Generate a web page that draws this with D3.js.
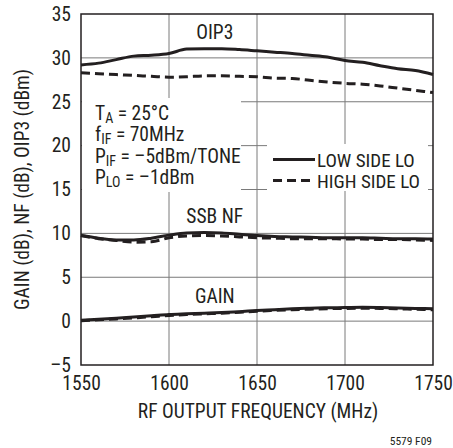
<!DOCTYPE html>
<html><head><meta charset="utf-8">
<script src="https://cdn.jsdelivr.net/npm/d3@7"></script>
<style>
html,body{margin:0;padding:0;background:#fff;}
svg{display:block;}
text{font-family:"Liberation Sans Narrow","Arial Narrow","Roboto Condensed","Liberation Sans",sans-serif;fill:#231f20;}
</style></head>
<body>
<script>
const freq = [1550,1560,1570,1580,1590,1600,1610,1620,1630,1640,1650,1660,1670,1680,1690,1700,1710,1720,1730,1740,1750];
const oip3Low  = [29.2,29.4,29.8,30.2,30.3,30.5,31.0,31.05,31.05,30.95,30.8,30.65,30.5,30.3,30.1,29.7,29.5,29.1,28.75,28.55,28.1];
const oip3High = [28.3,28.2,28.1,28.0,27.9,27.8,27.85,27.95,27.95,27.9,27.85,27.7,27.65,27.45,27.25,27.1,27.0,26.8,26.55,26.3,26.05];
const nfLow    = [9.75,9.45,9.25,9.25,9.45,9.8,10.05,10.1,10.05,9.9,9.75,9.65,9.6,9.55,9.5,9.5,9.5,9.45,9.4,9.4,9.35];
const nfHigh   = [9.75,9.4,9.2,9.0,9.05,9.5,9.7,9.75,9.7,9.6,9.5,9.45,9.4,9.4,9.4,9.35,9.35,9.3,9.3,9.25,9.2];
const gainLow  = [0.1,0.22,0.34,0.46,0.6,0.75,0.83,0.9,0.98,1.08,1.2,1.3,1.4,1.47,1.52,1.55,1.58,1.55,1.5,1.45,1.4];
const gainHigh = [0.05,0.15,0.25,0.37,0.5,0.65,0.75,0.83,0.9,1.02,1.13,1.22,1.3,1.36,1.42,1.45,1.47,1.45,1.4,1.35,1.3];
const xTicks = [1550,1600,1650,1700,1750];
const yTicks = [-5,0,5,10,15,20,25,30,35];
const yTickLabels = ["–5","0","5","10","15","20","25","30","35"];

const W = 453, H = 448;
const FS = 19.5;
const m = {l:81, r:433, t:14, b:365};
const svg = d3.select("body").append("svg").attr("width",W).attr("height",H);
const x = d3.scaleLinear().domain([1550,1750]).range([m.l,m.r]);
const y = d3.scaleLinear().domain([-5,35]).range([m.b,m.t]);

// grid
const grid = svg.append("g");
grid.selectAll("line.h").data(yTicks.filter(v=>v>-5&&v<35)).enter().append("line")
  .attr("x1",m.l).attr("x2",m.r).attr("y1",d=>y(d)).attr("y2",d=>y(d))
  .attr("stroke","#7a7a7a").attr("stroke-width",1);
grid.selectAll("line.v").data(xTicks.filter(v=>v>1550&&v<1750)).enter().append("line")
  .attr("y1",m.t).attr("y2",m.b).attr("x1",d=>x(d)).attr("x2",d=>x(d))
  .attr("stroke","#7a7a7a").attr("stroke-width",1);

// white masks for text boxes
svg.append("rect").attr("x",m.l+1).attr("y",98).attr("width",159).attr("height",94).attr("fill","#fff");
svg.append("rect").attr("x",267).attr("y",144).attr("width",161).attr("height",47).attr("fill","#fff");

// frame
svg.append("rect").attr("x",m.l).attr("y",m.t).attr("width",m.r-m.l).attr("height",m.b-m.t)
  .attr("fill","none").attr("stroke","#231f20").attr("stroke-width",1.5);

// axes (labels only)
const xAxis = d3.axisBottom(x).tickValues(xTicks).tickSize(0).tickPadding(11).tickFormat(d3.format("d"));
const gx = svg.append("g").attr("transform",`translate(0,${m.b})`).call(xAxis);
gx.select(".domain").remove();
gx.selectAll("text").attr("font-size",FS).attr("font-family",null);

const yAxis = d3.axisLeft(y).tickValues(yTicks).tickSize(0).tickPadding(10).tickFormat((d,i)=>yTickLabels[i]);
const gy = svg.append("g").attr("transform",`translate(${m.l},0)`).call(yAxis);
gy.select(".domain").remove();
gy.selectAll("text").attr("font-size",FS).attr("font-family",null);

// lines
const line = d3.line().x((d,i)=>x(freq[i])).y(d=>y(d)).curve(d3.curveMonotoneX);
const series = [
  {v:oip3Low,dash:null},{v:oip3High,dash:"9,5"},
  {v:nfHigh,dash:"9,5"},{v:nfLow,dash:null},
  {v:gainHigh,dash:"9,5"},{v:gainLow,dash:null}
];
svg.append("g").selectAll("path").data(series).enter().append("path")
  .attr("d",d=>line(d.v)).attr("fill","none").attr("stroke","#231f20")
  .attr("stroke-width",3).attr("stroke-dasharray",d=>d.dash);

// curve labels
const lab = [{t:"OIP3",v:32.15},{t:"SSB NF",v:11.2},{t:"GAIN",v:2.07}];
svg.selectAll("text.cl").data(lab).enter().append("text")
  .attr("x",x(1626)).attr("y",d=>y(d.v)).attr("text-anchor","middle").attr("font-size",FS).text(d=>d.t);

// conditions
const cond = svg.append("g").attr("font-size",FS);
const cl = [
  [["T",""],["A","sub"],[" = 25°C",""]],
  [["f",""],["IF","sub"],[" = 70MHz",""]],
  [["P",""],["IF","sub"],[" = –5dBm/TONE",""]],
  [["P",""],["LO","sub"],[" = –1dBm",""]]
];
cl.forEach((parts,i)=>{
  const t = cond.append("text").attr("x",95).attr("y",120+i*21.3);
  parts.forEach(p=>{
    const s = t.append("tspan").text(p[0]);
    if(p[1]==="sub") s.attr("font-size",14).attr("dy",3);
    else if(t.selectAll("tspan").size()>1) s.attr("dy",-3);
  });
});

// legend
const leg = svg.append("g");
[["LOW SIDE LO",null,159.5],["HIGH SIDE LO","9,5",180.5]].forEach(d=>{
  leg.append("line").attr("x1",273).attr("x2",315).attr("y1",d[2]).attr("y2",d[2])
    .attr("stroke","#231f20").attr("stroke-width",3).attr("stroke-dasharray",d[1]);
  leg.append("text").attr("x",317).attr("y",d[2]+7).attr("font-size",19).text(d[0]);
});

// axis titles
svg.append("text").attr("x",258).attr("y",418).attr("text-anchor","middle").attr("font-size",FS)
  .text("RF OUTPUT FREQUENCY (MHz)");
svg.append("text").attr("transform",`translate(29,${(m.t+m.b)/2}) rotate(-90)`).attr("text-anchor","middle")
  .attr("font-size",FS).text("GAIN (dB), NF (dB), OIP3 (dBm)");
svg.append("text").attr("x",432).attr("y",445).attr("text-anchor","end").attr("font-size",11.5).text("5579 F09");
</script>
</body></html>
